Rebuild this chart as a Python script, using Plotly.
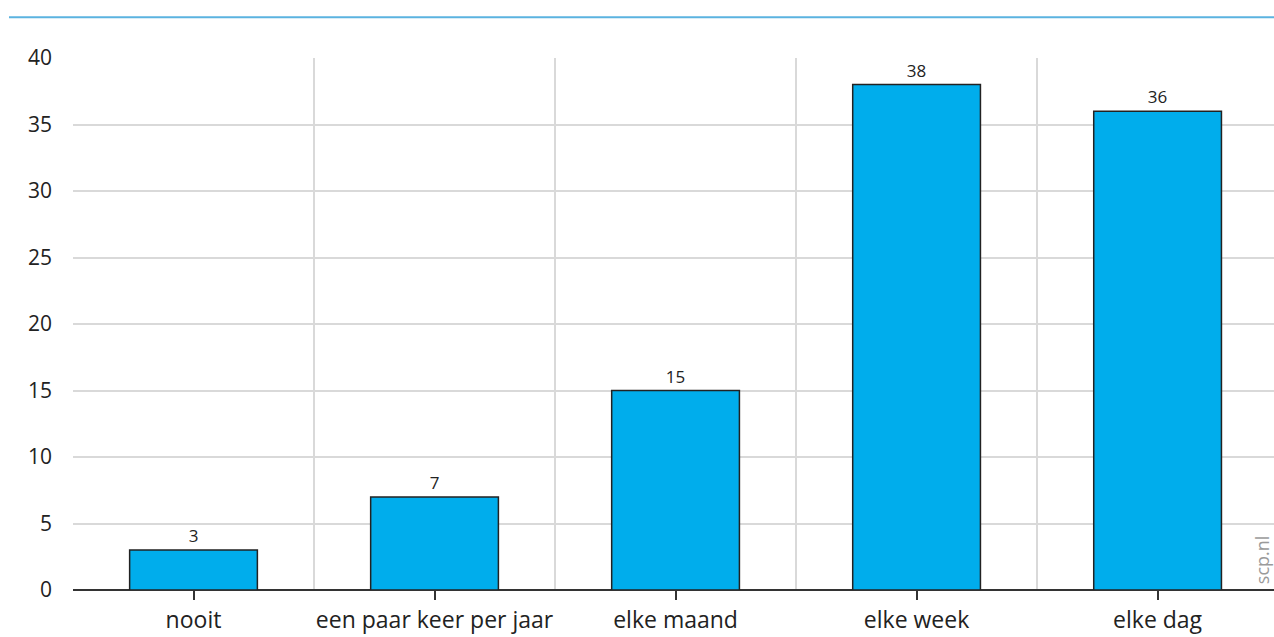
import plotly.graph_objects as go

categories = ["nooit", "een paar keer per jaar", "elke maand", "elke week", "elke dag"]
values = [3, 7, 15, 38, 36]
y_ticks = [0, 5, 10, 15, 20, 25, 30, 35, 40]

x_pos = list(range(len(categories)))

fig = go.Figure()
fig.add_trace(go.Bar(
    x=x_pos, y=values, width=0.53,
    marker=dict(color="#00adec", line=dict(color="#222222", width=1.5)),
    text=[str(v) for v in values], textposition="outside",
    textfont=dict(family="Open Sans", size=17, color="#222222"),
    cliponaxis=False,
))

fig.update_layout(
    width=1274, height=637,
    margin=dict(l=73, r=0, t=58, b=47, autoexpand=False),
    paper_bgcolor="white", plot_bgcolor="white",
    showlegend=False,
    xaxis=dict(
        range=[-0.5, 4.483], automargin=False,
        tickmode="array", tickvals=x_pos, ticktext=categories,
        showgrid=False, zeroline=False,
        ticks="outside", ticklen=9, tickwidth=1.5, tickcolor="#333333",
        tickfont=dict(family="Open Sans", size=23, color="#222222"),
        showline=False,
        minor=dict(tickmode="linear", tick0=-0.5, dtick=1, showgrid=True,
                   gridcolor="#d9d9d9", gridwidth=1.5, ticks=""),
    ),
    yaxis=dict(
        range=[0, 40], tickvals=y_ticks, automargin=False,
        showgrid=True, gridcolor="#d9d9d9", gridwidth=1.5,
        zeroline=True, zerolinecolor="#333333", zerolinewidth=1.5,
        showline=False, ticks="", ticklabelstandoff=20,
        tickfont=dict(family="Open Sans", size=21, color="#222222"),
    ),
    shapes=[dict(type="line", xref="paper", yref="paper",
                 x0=-0.0533, x1=1.0, y0=1.0766, y1=1.0766,
                 line=dict(color="#5bb3e0", width=2))],
    annotations=[dict(text="scp.nl", xref="paper", yref="paper",
                      x=0.990, y=0.058, xanchor="center", yanchor="middle",
                      textangle=-90, showarrow=False,
                      font=dict(family="Open Sans", size=18, color="#9a9a9a"))],
)

fig.write_html("out.html", config={"displayModeBar": False},
               post_script="document.body.style.margin='0';")
